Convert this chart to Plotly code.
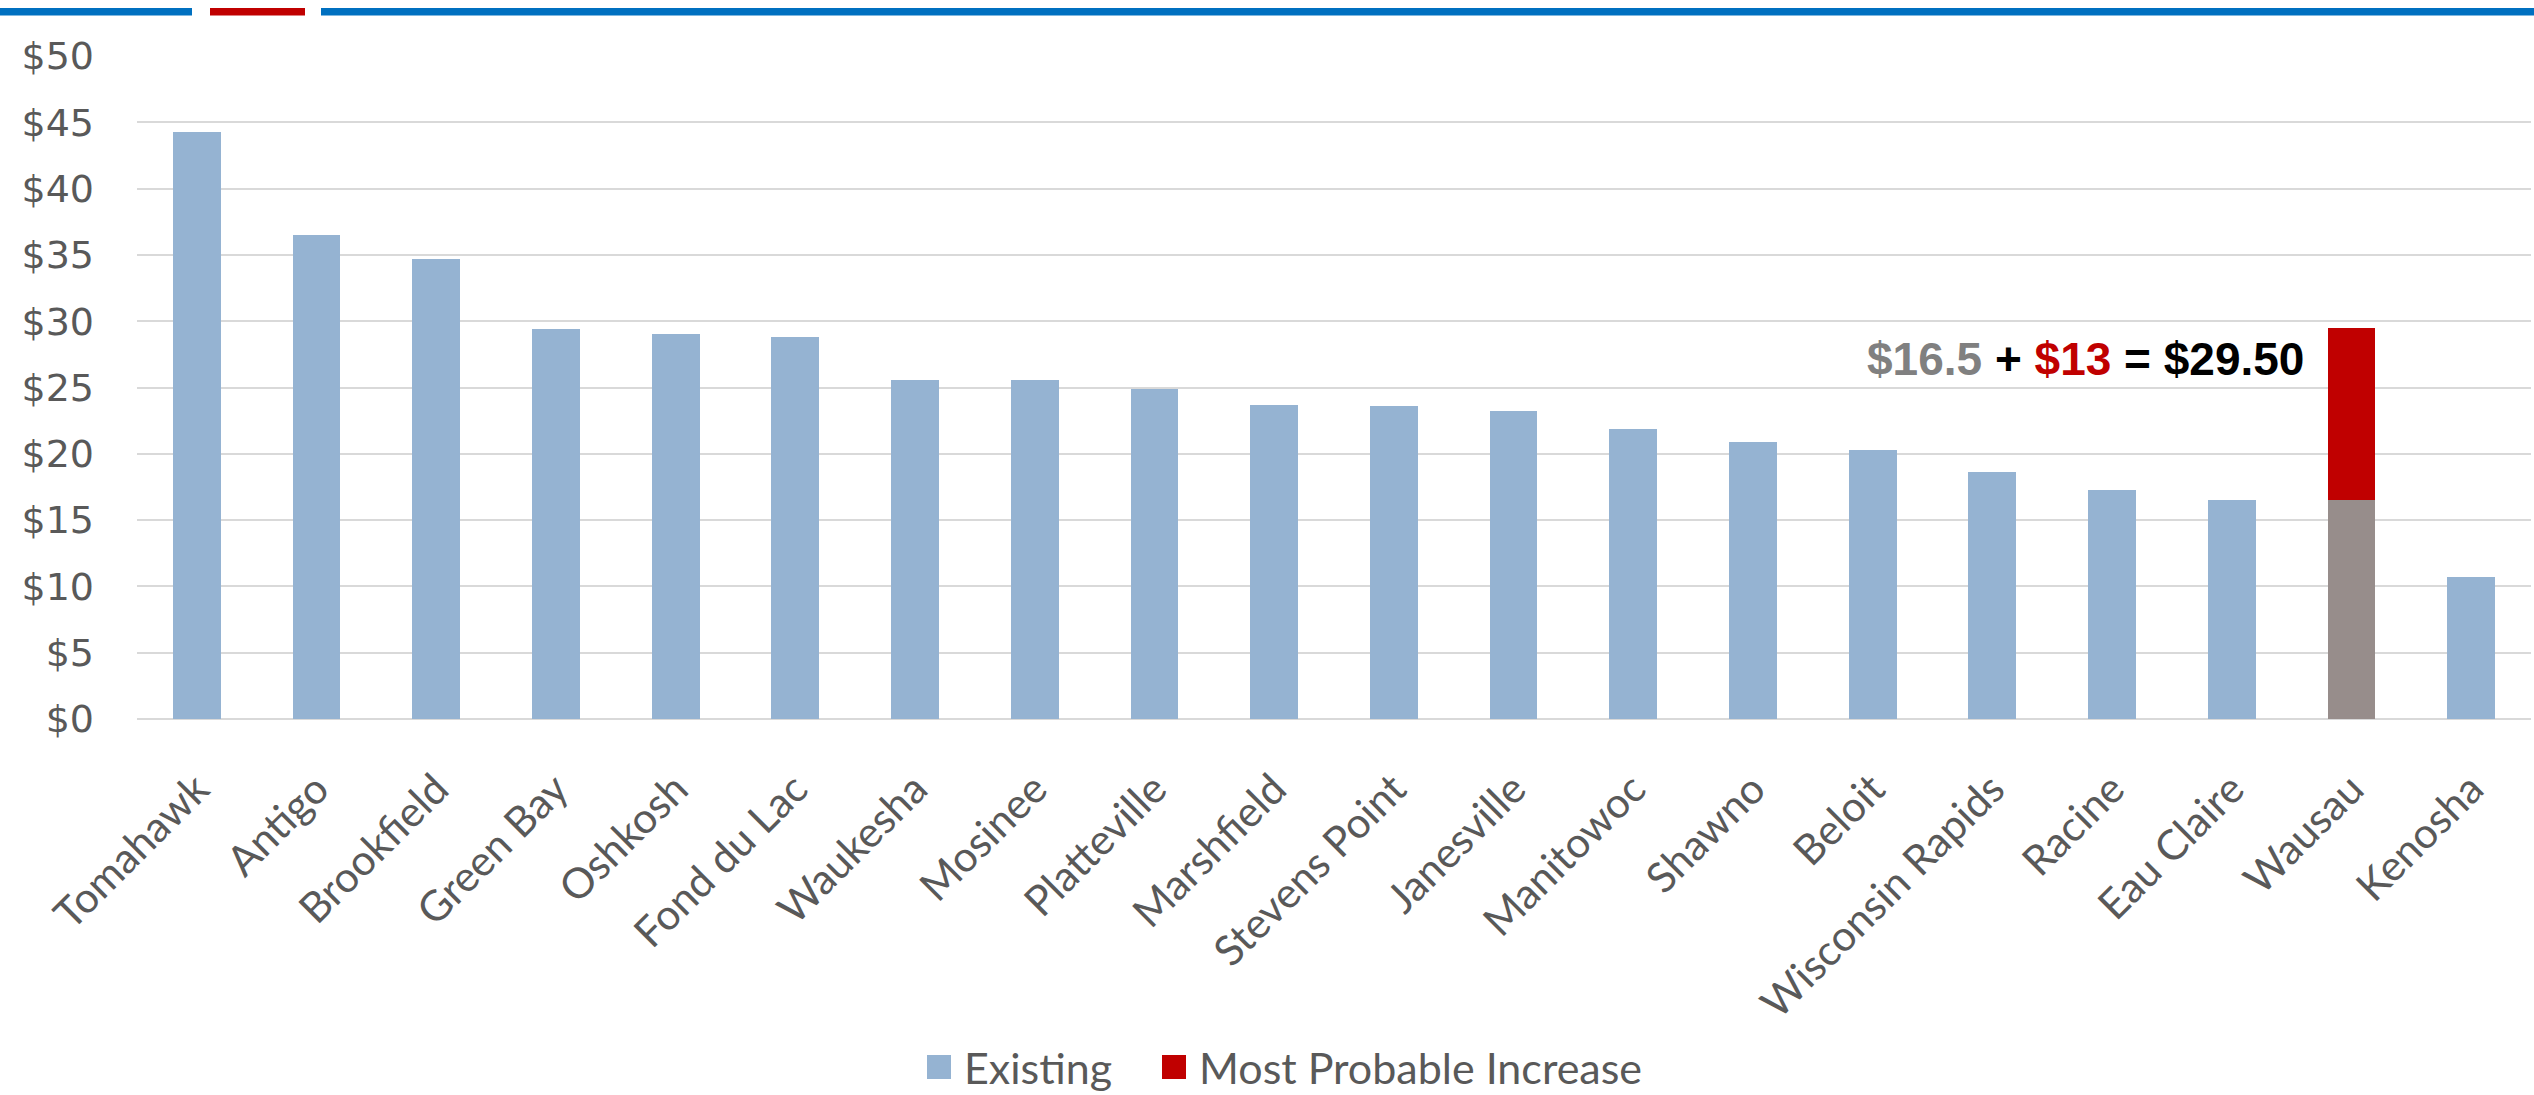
import plotly.graph_objects as go

# ---- data ----
cities = ["Tomahawk", "Antigo", "Brookfield", "Green Bay", "Oshkosh", "Fond du Lac",
          "Waukesha", "Mosinee", "Platteville", "Marshfield", "Stevens Point",
          "Janesville", "Manitowoc", "Shawno", "Beloit", "Wisconsin Rapids",
          "Racine", "Eau Claire", "Wausau", "Kenosha"]
existing = [44.3, 36.5, 34.7, 29.4, 29.05, 28.8, 25.55, 25.55, 24.9, 23.7, 23.6,
            23.2, 21.9, 20.9, 20.25, 18.6, 17.3, 16.5, 16.5, 10.7]
increase = [None] * 18 + [13.0] + [None]
highlight_city = "Wausau"
series_names = ["Existing", "Most Probable Increase"]
y_tick_vals = [0, 5, 10, 15, 20, 25, 30, 35, 40, 45, 50]
y_tick_text = ["$" + str(v) for v in y_tick_vals]

# ---- styling ----
W, H = 2534, 1095
ML, MR, MT, MB = 137, 3, 56, 376
BLUE_BAR = "#95B3D2"
GRAY_BAR = "#978D8B"
RED = "#C00000"
TXT = "#595959"

bar_colors = [GRAY_BAR if c == highlight_city else BLUE_BAR for c in cities]

fig = go.Figure()
fig.add_trace(go.Bar(x=cities, y=existing, name=series_names[0], showlegend=False,
                     marker=dict(color=bar_colors, line=dict(width=0))))
fig.add_trace(go.Bar(x=cities, y=increase, name=series_names[1], showlegend=False,
                     marker=dict(color=RED, line=dict(width=0))))

pw = W - ML - MR
ph = H - MT - MB
def px2paper_x(px):
    return (px - ML) / pw
def py2paper_y(py):
    return (H - MB - py) / ph

shapes = []
annotations = []

# decorative top lines
line_y0, line_y1 = 8, 15.5
for x0, x1, col in [(0, 192, "#0070C0"), (210, 305, RED), (321, W, "#0070C0")]:
    shapes.append(dict(type="rect", xref="paper", yref="paper",
                       x0=px2paper_x(x0), x1=px2paper_x(x1),
                       y0=py2paper_y(line_y1), y1=py2paper_y(line_y0),
                       fillcolor=col, line=dict(width=0), layer="above"))

# custom legend (large square swatches)
leg_cy = 1067
sw = 24
for sx, tx, col, name in [(927, 962, BLUE_BAR, series_names[0]),
                          (1162, 1197, RED, series_names[1])]:
    shapes.append(dict(type="rect", xref="paper", yref="paper",
                       x0=px2paper_x(sx), x1=px2paper_x(sx + sw),
                       y0=py2paper_y(leg_cy + sw / 2), y1=py2paper_y(leg_cy - sw / 2),
                       fillcolor=col, line=dict(width=0)))
    annotations.append(dict(x=px2paper_x(tx), y=py2paper_y(leg_cy), xref="paper", yref="paper",
                            xanchor="left", yanchor="middle", showarrow=False, text=name,
                            font=dict(family="Lato, sans-serif", size=43, color=TXT)))

# equation annotation
annotations.append(dict(
    x=highlight_city, y=27.15, xref="x", yref="y",
    xanchor="right", yanchor="middle", xshift=-45, showarrow=False,
    text='<span style="color:#808080">$16.5</span> + '
         '<span style="color:#C00000">$13</span> = $29.50',
    font=dict(family="Liberation Sans, Arial, sans-serif",
              size=46, color="black", weight="bold"),
))

fig.update_layout(
    width=W, height=H,
    margin=dict(l=ML, r=MR, t=MT, b=MB, pad=0, autoexpand=False),
    paper_bgcolor="white", plot_bgcolor="white",
    barmode="stack", bargap=0.6,
    font=dict(family="Lato, sans-serif", color=TXT, size=37),
    showlegend=False,
    shapes=shapes,
    annotations=annotations,
    xaxis=dict(type="category", tickangle=-45, showgrid=False, showline=False,
               ticks="", tickfont=dict(family="Lato, sans-serif", size=42, color=TXT),
               ticklabelstandoff=36, ticklabelshift=0, automargin=False),
    yaxis=dict(range=[0, 50], tickvals=y_tick_vals, ticktext=y_tick_text,
               showgrid=True, gridcolor="#D9D9D9", gridwidth=2,
               zeroline=True, zerolinecolor="#D9D9D9", zerolinewidth=2,
               showline=False, ticks="", automargin=False,
               tickfont=dict(family="Century Gothic, DejaVu Sans, sans-serif", size=38, color=TXT),
               ticklabelstandoff=42),
)

fig.write_html("out.html", config={"displayModeBar": False},
               post_script="document.body.style.margin='0';document.body.style.overflow='hidden';")
